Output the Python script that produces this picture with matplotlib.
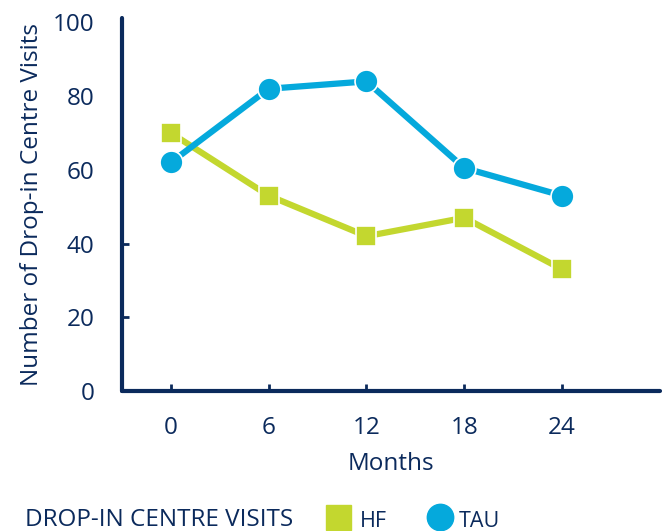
import matplotlib.pyplot as plt
from matplotlib.lines import Line2D

months = [0, 6, 12, 18, 24]
hf = [70, 53, 42, 47, 33]
tau = [62, 82, 84, 60.5, 53]
yticks = [0, 20, 40, 60, 80, 100]

navy = "#0b2a5c"
green = "#c3d72f"
blue = "#05a9dc"

plt.rcParams['font.family'] = ['Open Sans', 'DejaVu Sans']

fig = plt.figure(figsize=(6.7, 5.31), dpi=100)
ax = fig.add_axes([0.182, 0.2637, 0.803, 0.7024])

ax.plot(months, hf, color=green, lw=4.5, marker='s', ms=14.5,
        mec='white', mew=1.2, label='HF', zorder=3)
ax.plot(months, tau, color=blue, lw=4.5, marker='o', ms=16.5,
        mec='white', mew=1.2, label='TAU', zorder=4)

ax.set_xlim(-3, 30)
ax.set_ylim(0, 101.2)
ax.set_xticks(months)
ax.set_yticks(yticks)
ax.tick_params(axis='both', direction='in', colors=navy, labelsize=17.5,
               width=2, length=5)
ax.tick_params(axis='x', pad=18)
ax.tick_params(axis='y', pad=20)
for t in ax.yaxis.get_major_ticks()[3:]:
    t.tick1line.set_visible(False)
for side in ['top', 'right']:
    ax.spines[side].set_visible(False)
for side in ['left', 'bottom']:
    ax.spines[side].set_color(navy)
    ax.spines[side].set_linewidth(3)
    ax.spines[side].set_capstyle('round')

ax.set_xlabel("Months", color=navy, fontsize=17.5, labelpad=9)
ax.set_ylabel("Number of Drop-in Centre Visits", color=navy, fontsize=17.5, labelpad=6)

# legend row at the bottom
fig.text(0.037, 0.01, "DROP-IN CENTRE VISITS", color=navy, fontsize=17.5)
fig.add_artist(Line2D([0.504], [0.026], transform=fig.transFigure, marker='s',
                      ms=18, color=green, ls='none'))
fig.text(0.537, 0.008, "HF", color=navy, fontsize=15.5)
fig.add_artist(Line2D([0.657], [0.026], transform=fig.transFigure, marker='o',
                      ms=19, color=blue, ls='none'))
fig.text(0.684, 0.008, "TAU", color=navy, fontsize=15.5)

fig.savefig("out.png", dpi=100)
